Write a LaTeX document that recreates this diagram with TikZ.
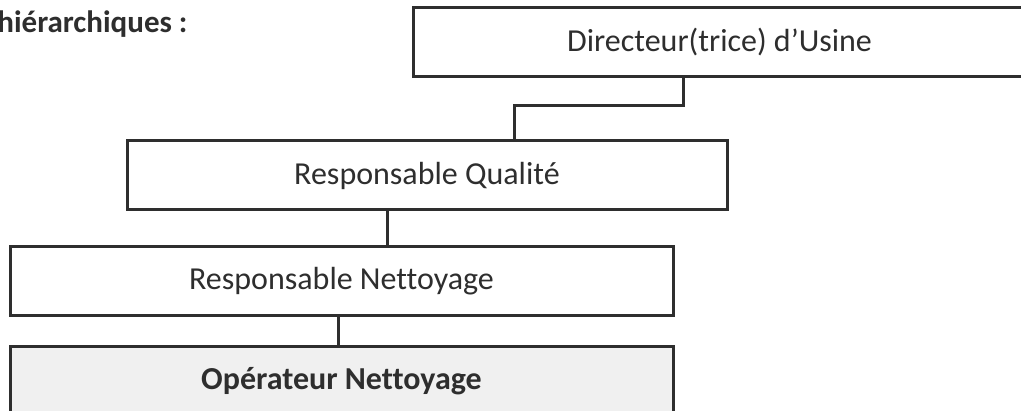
\documentclass[tikz,border=0pt]{standalone}
\usepackage{fontspec}
\setmainfont{Carlito}[Ligatures=NoCommon]
\definecolor{inkgray}{HTML}{2E2E2E}
\begin{document}
\begin{tikzpicture}[%
    x=0.5pt,
    y=-0.5pt,
    box/.style={
      rectangle,
      draw=inkgray,
      line width=1.5pt,
      fill=white,
      text=inkgray,
      font=\fontsize{16}{19}\selectfont,
      inner sep=0pt,
      minimum height=34.5pt
    },
    boxgray/.style={
      box,
      fill=black!6,
      font=\fontsize{16}{19}\selectfont\bfseries
    },
    link/.style={
      draw=inkgray,
      line width=1.5pt
    }
  ]
    \path[use as bounding box,clip] (0,0) rectangle (1021,411);
    \node[anchor=west,inner sep=0pt,text=inkgray,font=\fontsize{15.5}{18}\selectfont\bfseries] (title) at (-3,24) {hiérarchiques :};
    \node[box,minimum width=306.5pt] (dir) at (719.5,42.5) {Directeur(trice) d’Usine};
    \node[box,minimum width=300pt] (qual) at (427,175.5) {Responsable Qualité};
    \node[box,minimum width=331.5pt] (net) at (341.5,281) {Responsable Nettoyage};
    \node[boxgray,minimum width=331.5pt] (op) at (341.5,381) {Opérateur Nettoyage};
    \coordinate (k1) at (683,106);
    \coordinate (k2) at (514,106);
    \coordinate (k3) at (387,0);
    \coordinate (k4) at (338,0);
    \draw[link] (dir.south -| k1) -- (k1) -- (k2) -- (qual.north -| k2);
    \draw[link] (qual.south -| k3) -- (net.north -| k3);
    \draw[link] (net.south -| k4) -- (op.north -| k4);
  \end{tikzpicture}
\end{document}
